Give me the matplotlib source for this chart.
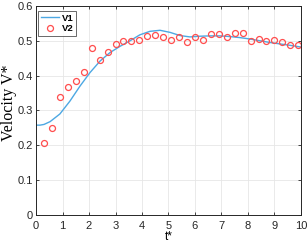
import matplotlib
matplotlib.use("Agg")
import matplotlib.pyplot as plt

# V1 (line) samples
t1 = [0.0, 0.15, 0.3, 0.53, 0.9, 1.28, 1.66, 2.04, 2.42, 2.79, 3.17, 3.55, 3.92, 4.3, 4.68,
      5.06, 5.43, 5.81, 6.19, 6.57, 6.95, 7.32, 7.7, 8.08, 8.45, 8.83, 9.2, 9.58, 10.0]
v1 = [0.258, 0.258, 0.260, 0.268, 0.290, 0.327, 0.370, 0.409, 0.442, 0.466, 0.484, 0.500,
      0.517, 0.527, 0.530, 0.524, 0.515, 0.511, 0.513, 0.514, 0.514, 0.512, 0.509, 0.505,
      0.500, 0.495, 0.491, 0.487, 0.482]

# V2 (markers)
t2 = [0.3, 0.6, 0.9, 1.2, 1.5, 1.8, 2.1, 2.4, 2.7, 3.0, 3.3, 3.6, 3.9, 4.2, 4.5, 4.8,
      5.1, 5.4, 5.7, 6.0, 6.3, 6.6, 6.9, 7.2, 7.5, 7.8, 8.1, 8.4, 8.7, 9.0, 9.3, 9.6, 9.9]
v2 = [0.207, 0.250, 0.339, 0.368, 0.386, 0.410, 0.479, 0.446, 0.469, 0.492, 0.498, 0.498,
      0.503, 0.513, 0.517, 0.511, 0.503, 0.510, 0.497, 0.510, 0.502, 0.520, 0.520, 0.510,
      0.523, 0.523, 0.500, 0.504, 0.499, 0.501, 0.497, 0.489, 0.487]

xticks = [0, 1, 2, 3, 4, 5, 6, 7, 8, 9, 10]
yticks = [0, 0.1, 0.2, 0.3, 0.4, 0.5, 0.6]
ytick_labels = ['0', '0.1', '0.2', '0.3', '0.4', '0.5', '0.6']

plt.rcParams['font.family'] = ['Liberation Sans', 'DejaVu Sans']

fig = plt.figure(figsize=(3.08, 2.45), dpi=100)
ax = fig.add_axes([0.117, 0.122, 0.860, 0.854])

ax.plot(t1, v1, color='#4DA8E3', lw=1.0, label='V1')
ax.plot(t2, v2, linestyle='none', marker='o', markersize=4.3, markerfacecolor='none',
        markeredgecolor='#FF4D4D', markeredgewidth=0.9, label='V2')

ax.set_xlim(0, 10)
ax.set_ylim(0, 0.6)
ax.set_xticks(xticks)
ax.set_yticks(yticks)
ax.set_xticklabels([str(x) for x in xticks])
ax.set_yticklabels(ytick_labels)
ax.grid(True, color='#E6E6E6', lw=0.6)
ax.set_axisbelow(True)
ax.tick_params(direction='in', top=True, right=True, labelsize=8, length=2.5,
               width=0.6, colors='#262626')
ax.tick_params(axis='x', pad=4)
ax.tick_params(axis='y', pad=2.5)
for s in ax.spines.values():
    s.set_color('#262626')
    s.set_linewidth(0.7)

ax.set_xlabel('t*', fontsize=8.5, labelpad=0)
ax.set_ylabel('Velocity V*', fontsize=11.5, family=['Liberation Serif', 'DejaVu Serif'])
ax.yaxis.set_label_coords(-0.072, 0.535)

leg = ax.legend(loc='upper left', bbox_to_anchor=(0.008, 0.977),
                prop={'size': 6.8, 'weight': 'bold'}, frameon=True, fancybox=False,
                borderpad=0.3, handlelength=1.9, handletextpad=0.3, labelspacing=0.15,
                borderaxespad=0.0)
leg.get_frame().set_edgecolor('#262626')
leg.get_frame().set_linewidth(0.6)

fig.savefig('out.png', dpi=100)
